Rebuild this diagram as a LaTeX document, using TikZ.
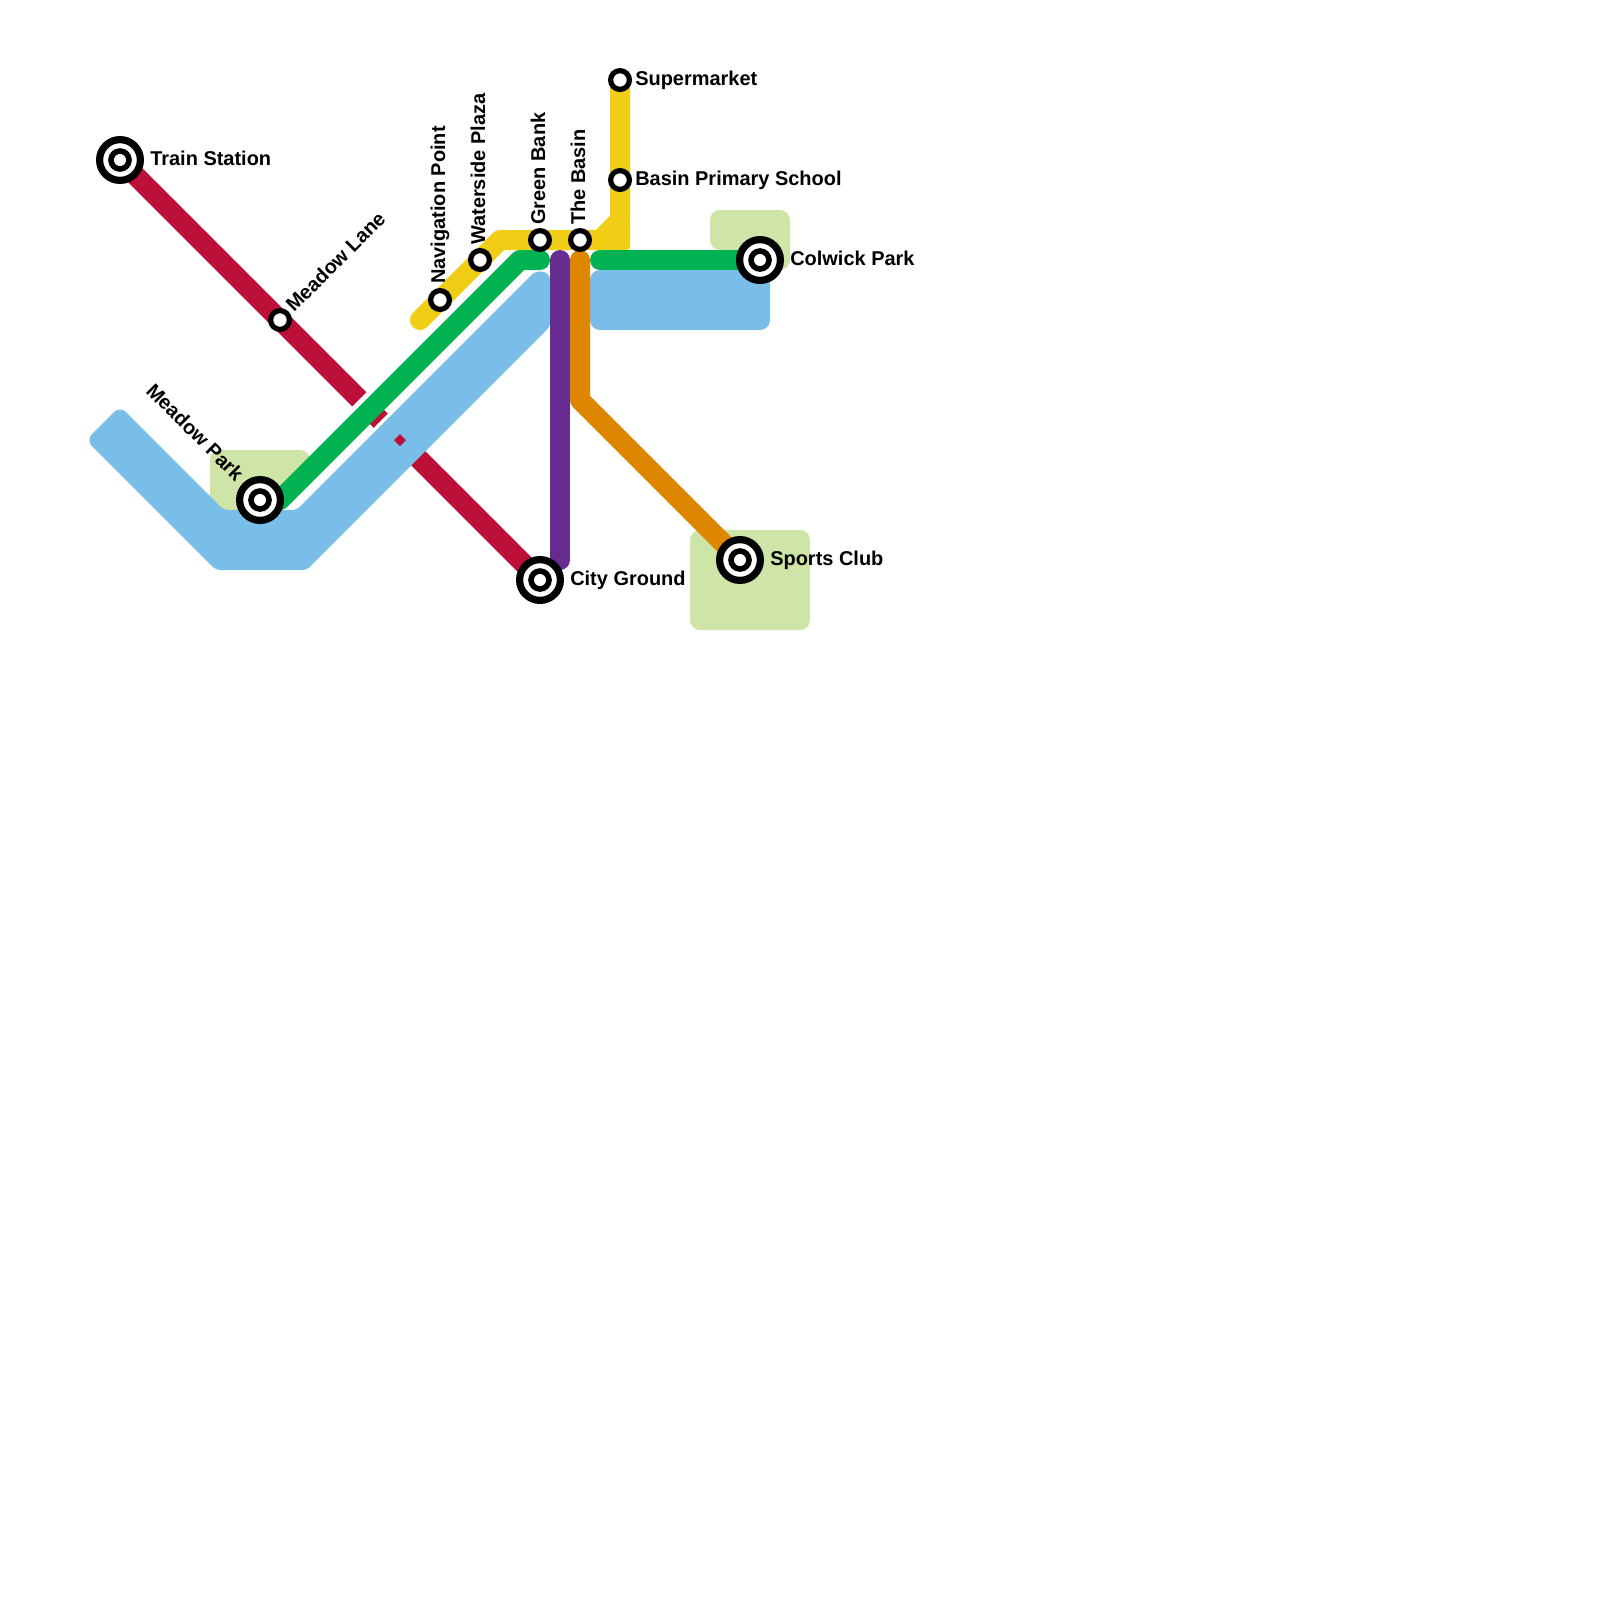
\documentclass[tikz,border=0pt]{standalone}
\usepackage{fontspec}
\setmainfont{Liberation Sans}
\usetikzlibrary{positioning,backgrounds}
\definecolor{redline}{HTML}{BD1038}
\definecolor{greenline}{HTML}{00B251}
\definecolor{waterblue}{HTML}{79BDE9}
\definecolor{yellowline}{HTML}{F0CE15}
\definecolor{purpleline}{HTML}{662C90}
\definecolor{orangeline}{HTML}{DF8600}
\definecolor{parkgreen}{HTML}{CFE4A7}
\tikzset{
	%Define one line of the map
	route/.style={line width=0.5cm, line cap=round, line join=round},
	%Define style for areas
	park/.style={fill=parkgreen, rounded corners=0.25cm},
	water/.style={fill=waterblue, rounded corners=0.25cm},
	gap/.style={white, line width=0.15cm},
	% Define station styles
	stop/.style={circle, draw=black, fill=white, line width=0.13cm,
		inner sep=0, minimum size=0.47cm},
	core/.style={circle, draw=black, fill=white, line width=0.14cm,
		inner sep=0, minimum size=0.45cm},
	hub/.style={circle, draw=black, fill=white, line width=0.18cm,
		inner sep=0, minimum size=1.02cm},
	lbl/.style={font=\fontsize{14.2}{16}\selectfont\bfseries, inner sep=0, text=black}
}
\begin{document}
\begin{tikzpicture}[x=0.5cm,y=-0.5cm]
	\useasboundingbox (0,0) rectangle (80,80);
	% stations
	\node[hub] (train) at (6,8) {};
	\node[core] (trainin) at (train) {};
	\node[stop] (lane) at (14,16) {};
	\node[hub] (mpark) at (13,25) {};
	\node[core] (mparkin) at (mpark) {};
	\node[hub] (ground) at (27,29) {};
	\node[core] (groundin) at (ground) {};
	\node[stop] (navi) at (22,15) {};
	\node[stop] (plaza) at (24,13) {};
	\node[stop] (gbank) at (27,12) {};
	\node[stop] (basin) at (29,12) {};
	\node[stop] (market) at (31,4) {};
	\node[stop] (school) at (31,9) {};
	\node[hub] (colwick) at (38,13) {};
	\node[core] (colwickin) at (colwick) {};
	\node[hub] (sports) at (37,28) {};
	\node[core] (sportsin) at (sports) {};
	% labels
	\node[lbl,anchor=base west] (trainl) at ([shift={(1.5,0.25)}]train.center) {Train Station};
	\node[lbl,anchor=base west,rotate=45] (lanel) at ([shift={(0.7,-0.35)}]lane.center) {Meadow Lane};
	\node[lbl,anchor=base east,rotate=-45] (mparkl) at ([shift={(-1.225,-0.875)}]mpark.center) {Meadow Park};
	\node[lbl,anchor=base west] (groundl) at ([shift={(1.5,0.25)}]ground.center) {City Ground};
	\node[lbl,anchor=base west,rotate=90] (navil) at ([shift={(0.25,-0.8)}]navi.center) {Navigation Point};
	\node[lbl,anchor=base west,rotate=90] (plazal) at ([shift={(0.25,-0.75)}]plaza.center) {Waterside Plaza};
	\node[lbl,anchor=base west,rotate=90] (gbankl) at ([shift={(0.25,-0.75)}]gbank.center) {Green Bank};
	\node[lbl,anchor=base west,rotate=90] (basinl) at ([shift={(0.25,-0.75)}]basin.center) {The Basin};
	\node[lbl,anchor=base west] (marketl) at ([shift={(0.75,0.25)}]market.center) {Supermarket};
	\node[lbl,anchor=base west] (schooll) at ([shift={(0.75,0.25)}]school.center) {Basin Primary School};
	\node[lbl,anchor=base west] (colwickl) at ([shift={(1.5,0.25)}]colwick.center) {Colwick Park};
	\node[lbl,anchor=base west] (sportsl) at ([shift={(1.5,0.25)}]sports.center) {Sports Club};
	% bends and free ends
	\coordinate (yend) at (21,16);
	\coordinate (yb1) at (25,12);
	\coordinate (yb2) at (30,12);
	\coordinate (yb3) at (31,11);
	\coordinate (gend) at (27,13);
	\coordinate (gb1) at (26,13);
	\coordinate (gb2) at (14,25);
	\coordinate (gstart) at (30,13);
	\coordinate (ptop) at (28,13);
	\coordinate (pend) at (28,28);
	\coordinate (otop) at (29,13);
	\coordinate (ob1) at (29,20);
	\coordinate (gapa) at (17.33,20.83);
	\coordinate (gapb) at (18.83,19.33);
	\coordinate (gapc) at (18.36,21.86);
	\coordinate (gapd) at (19.86,20.36);
	\coordinate (gape) at (14.25,25.75);
	\coordinate (gapf) at (16,24);
	\begin{pgfonlayer}{background}
		\path[park] (10.5,22.5) rectangle (15.5,25.5);
		\path[park] (35.5,10.5) -- (39.5,10.5) -- (39.5,13.5) -- (38.5,13.5) -- (38.5,12.5) -- (35.5,12.5) -- cycle;
		\path[park] (34.5,26.5) rectangle (40.5,31.5);
		\draw[route,redline] (train.center) -- (ground.center);
		\draw[gap] (gapa) -- (gapb);
		\draw[route,yellowline] (market.center) -- (yb3) -- (yb2) -- (yb1) -- (yend);
		\fill[yellowline,rounded corners=0.08cm] (31,11) -- (31.5,11) -- (31.5,12.5) -- (30,12.5) -- (30,12) -- cycle;
		\draw[gap,line width=0.35cm] (gape) -- (gapf);
		\draw[route,greenline] (gend) -- (gb1) -- (gb2) -- (mpark.center);
		\draw[route,greenline] (gstart) -- (colwick.center);
		\draw[gap,line width=0.1cm] (gapc) -- (gapd);
		\path[water,rounded corners=0.1cm] (5.6,20.7) .. controls (5.85,20.45) and (6.15,20.45) .. (6.4,20.7) -- (11.2,25.5) -- (14.835,25.5) -- (26.5,13.835) .. controls (26.835,13.5) and (27.5,13.5) .. (27.5,14.2) -- (27.5,16.335) -- (15.335,28.5) -- (10.8,28.5) -- (4.7,22.4) .. controls (4.45,22.15) and (4.45,21.85) .. (4.7,21.6) -- cycle;
		\path[water] (29.5,13.5) rectangle (38.5,16.5);
		\fill[redline] (20,21.7) -- (20.3,22) -- (20,22.3) -- (19.7,22) -- cycle;
		\draw[route,purpleline] (ptop) -- (pend);
		\draw[route,orangeline] (otop) -- (ob1) -- (sports.center);
	\end{pgfonlayer}
\end{tikzpicture}
\end{document}
